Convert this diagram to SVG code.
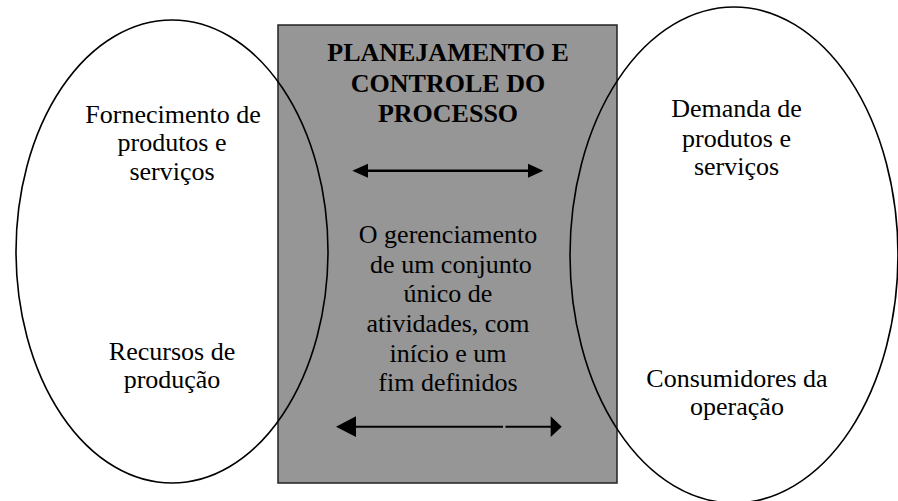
<svg xmlns="http://www.w3.org/2000/svg" width="898" height="501" viewBox="0 0 898 501">
<style>
.t{font-family:'Liberation Serif','Times New Roman',Times,serif;font-size:26px;fill:#000;text-anchor:middle}
.b{font-weight:bold}
.ell{fill:none;stroke:#000;stroke-width:1.6}
.ln{stroke:#000;fill:none}
</style>
<rect width="898" height="501" fill="#fff"/>
<g id="center">
<rect x="278" y="25" width="339" height="458" fill="#969696" stroke="#222" stroke-width="1.5"/>
<g class="t" font-family="Liberation Serif, serif">
<text class="b" x="448" y="61">PLANEJAMENTO E</text>
<text class="b" x="448" y="92">CONTROLE DO</text>
<text class="b" x="448" y="122">PROCESSO</text>
<text x="448" y="243">O gerenciamento</text>
<text x="451" y="273">de um conjunto</text>
<text x="448" y="302">único de</text>
<text x="448" y="332">atividades, com</text>
<text x="448" y="362">início e um</text>
<text x="448" y="391">fim definidos</text>
</g>
</g>
<g id="left">
<ellipse class="ell" cx="172" cy="251.5" rx="156" ry="231.5"/>
<g class="t" font-family="Liberation Serif, serif">
<text x="173" y="123">Fornecimento de</text>
<text x="172" y="151">produtos e</text>
<text x="172" y="180">serviços</text>
<text x="172" y="360">Recursos de</text>
<text x="172" y="388">produção</text>
</g>
</g>
<g id="right">
<ellipse class="ell" cx="734" cy="255" rx="164" ry="248"/>
<g class="t" font-family="Liberation Serif, serif">
<text x="736.5" y="117">Demanda de</text>
<text x="736.5" y="147">produtos e</text>
<text x="736.5" y="175">serviços</text>
<text x="737" y="387">Consumidores da</text>
<text x="737" y="415">operação</text>
</g>
</g>
<g id="connectors">
<line class="ln" x1="366" y1="170.7" x2="530" y2="170.7" stroke-width="2.6"/>
<path d="M352.3,170.7L368,163.7L368,177.7Z" fill="#000"/>
<path d="M543.3,170.7L528,163.7L528,177.7Z" fill="#000"/>
<line class="ln" x1="354" y1="426.7" x2="503" y2="426.7" stroke-width="2"/>
<line class="ln" x1="505.5" y1="426.7" x2="552" y2="426.7" stroke-width="2"/>
<path d="M336,426.7L356,416.3L356,437Z" fill="#000"/>
<path d="M561.7,426.7L550.7,416.3L550.7,437Z" fill="#000"/>
</g>
</svg>
